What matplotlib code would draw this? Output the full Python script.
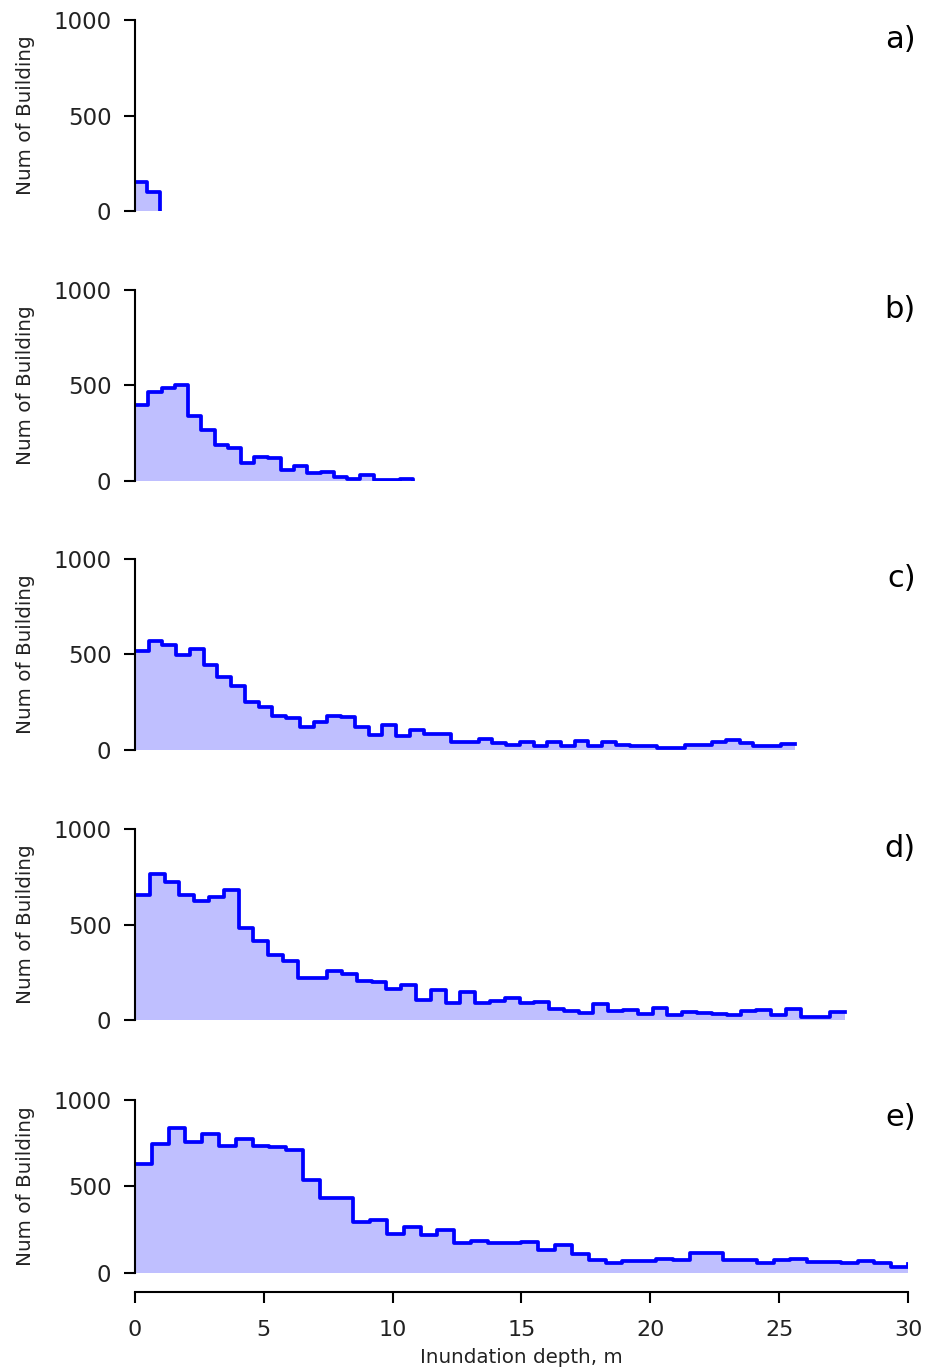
import numpy as np
import matplotlib
matplotlib.use("Agg")
import matplotlib.pyplot as plt

# building counts per depth bin, last value is where the step line stops
counts_a = [152, 100, 0]
counts_b = [398, 465, 488, 504, 339, 268, 188, 175, 96, 126, 118, 56, 79, 40, 46,
            21, 9, 32, 5, 5, 9, 2]
counts_c = [518, 570, 547, 495, 530, 447, 382, 333, 249, 225, 179, 167, 118, 144,
            179, 170, 119, 79, 128, 74, 105, 84, 84, 39, 42, 58, 35, 26, 39, 18,
            42, 18, 46, 18, 42, 25, 18, 18, 12, 12, 28, 28, 39, 53, 35, 23, 18, 30, 30]
counts_d = [653, 763, 725, 654, 621, 644, 679, 482, 416, 339, 311, 219, 219, 258,
            242, 202, 198, 161, 181, 105, 156, 88, 146, 88, 98, 114, 91, 95, 60, 49,
            39, 84, 47, 53, 30, 65, 26, 40, 39, 30, 26, 46, 53, 26, 56, 18, 18, 44, 44]
counts_e = [627, 743, 836, 755, 801, 736, 772, 736, 730, 710, 537, 436, 436, 295,
            305, 224, 263, 218, 251, 174, 185, 176, 172, 180, 135, 164, 112, 73, 58,
            69, 68, 83, 73, 116, 116, 77, 77, 58, 73, 81, 64, 62, 58, 69, 58, 35, 50]
depth_end = [0.97, 10.8, 25.6, 27.55, 30.0]
panel_labels = ["a)", "b)", "c)", "d)", "e)"]
all_counts = [counts_a, counts_b, counts_c, counts_d, counts_e]

xticks = [0, 5, 10, 15, 20, 25, 30]
yticks = [0, 500, 1000]

fig = plt.figure(figsize=(9.29, 13.71), dpi=100)

# axes boxes (left, bottom, width, height) in figure fraction
W = 773 / 929
L = 135 / 929
boxes = [
    [L, 0.8461, W, 0.1393],
    [L, 0.6492, W, 0.1393],
    [L, 0.4530, W, 0.1393],
    [L, 0.2560, W, 0.1393],
    [L, 0.0715, W, 0.1262],
]

for i in range(5):
    ax = fig.add_axes(boxes[i])
    cnt = np.array(all_counts[i], dtype=float)
    x = np.linspace(0, depth_end[i], len(cnt))
    ax.fill_between(x, cnt, step="post", color="blue", alpha=0.25, linewidth=0)
    ax.step(x, cnt, where="post", color="blue", lw=2.7)
    ax.set_xlim(0, 30)
    ax.set_ylim(0, 1000)
    ax.set_yticks(yticks)
    ax.tick_params(axis="y", labelsize=16.5, length=8, width=1.5, pad=9,
                   labelcolor="#222222")
    ax.set_ylabel("Num of Building", fontsize=14.3, labelpad=13, color="#222222")
    ax.spines["top"].set_visible(False)
    ax.spines["right"].set_visible(False)
    ax.spines["left"].set_linewidth(1.5)
    ax.text(1.01, 0.9, panel_labels[i], transform=ax.transAxes, ha="right",
            va="center", fontsize=22)
    if i < 4:
        ax.spines["bottom"].set_visible(False)
        ax.set_xticks([])
    else:
        ax.spines["bottom"].set_position(("outward", 13.7))
        ax.spines["bottom"].set_linewidth(1.5)
        ax.set_xticks(xticks)
        ax.tick_params(axis="x", labelsize=16, length=8, width=1.5, pad=12,
                       labelcolor="#222222")
        ax.set_xlabel("Inundation depth, m", fontsize=14.3, labelpad=6,
                      color="#222222")

fig.savefig("out.png", dpi=100)
